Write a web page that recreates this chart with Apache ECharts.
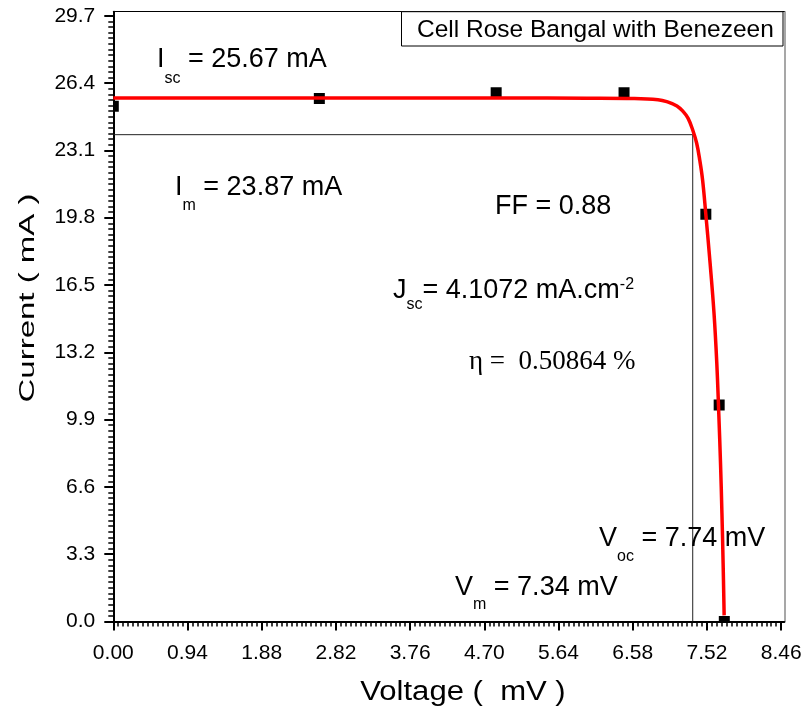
<!DOCTYPE html>
<html>
<head>
<meta charset="utf-8">
<script src="https://cdn.jsdelivr.net/npm/echarts@6/dist/echarts.min.js"></script>
<style>
  html, body { margin: 0; padding: 0; background: #fff; }
  #chart { width: 807px; height: 719px; }
</style>
</head>
<body>
<div id="chart"></div>
<script>
// Measured I–V points (voltage in mV, current in mA)
const measuredVoltage = [0, 2.61, 4.85, 6.47, 7.506, 7.675, 7.74];
const measuredCurrent = [25.27, 25.64, 25.92, 25.92, 19.97, 10.61, 0];

// Fitted I–V curve
const fitVoltage = [0, 1, 2, 3, 4, 5, 6, 6.6, 6.9, 7.01, 7.14, 7.22, 7.28, 7.34, 7.39, 7.43, 7.465, 7.505, 7.56, 7.61, 7.645, 7.67, 7.692, 7.71, 7.725, 7.738];
const fitCurrent = [25.67, 25.67, 25.67, 25.67, 25.67, 25.67, 25.66, 25.64, 25.58, 25.49, 25.28, 25.0, 24.68, 24.1, 23.45, 22.6, 21.65, 20.0, 17.57, 15.1, 12.66, 10.2, 7.76, 5.3, 2.85, 0.3];

// Cell parameters
const isc = 25.67;   // mA
const im = 23.87;    // mA
const vm = 7.34;     // mV
const voc = 7.74;    // mV
const ff = 0.88;
const jsc = 4.1072;  // mA.cm-2
const eta = 0.50864; // %

// Axis tick labels
const xTicks = [0, 0.94, 1.88, 2.82, 3.76, 4.70, 5.64, 6.58, 7.52, 8.46];
const yTicks = [0, 3.3, 6.6, 9.9, 13.2, 16.5, 19.8, 23.1, 26.4, 29.7];

const legendText = 'Cell Rose Bangal with Benezeen';
const xTitle = 'Voltage (  mV )';
const yTitle = 'Current ( mA )';

// minor tick positions between the labelled ticks
function minorTicks(major, parts) {
  const out = [];
  for (let i = 0; i < major.length - 1; i++) {
    const step = (major[i + 1] - major[i]) / parts;
    for (let k = 1; k < parts; k++) out.push(+(major[i] + k * step).toFixed(5));
  }
  return out;
}
const xMinor = minorTicks(xTicks, 15);
const yMinor = minorTicks(yTicks, 12);

const SANS = '"Liberation Sans", Arial, sans-serif';
const SERIF = '"Liberation Serif", "Times New Roman", serif';
const MARK = 11; // square marker edge, px

const chart = echarts.init(document.getElementById('chart'), null, { renderer: 'canvas' });

const hidden = { axisLine: { show: false }, axisTick: { show: false }, axisLabel: { show: false }, splitLine: { show: false } };

function richStyle(subPad) {
  return {
    m: { fontSize: 27, lineHeight: 27, verticalAlign: 'top', fontFamily: SANS, fill: '#000' },
    s: { fontSize: 16, verticalAlign: 'top', padding: [subPad, 0, 0, 0], fontFamily: SANS, fill: '#000' },
    p: { fontSize: 16, lineHeight: 16, verticalAlign: 'top', fontFamily: SANS, fill: '#000' }
  };
}
function label(x, y, text, subPad) {
  return {
    type: 'text', x: x, y: y, z: 100,
    style: { text: text, rich: richStyle(subPad), align: 'left', verticalAlign: 'top', fill: '#000' }
  };
}

const option = {
  animation: false,
  backgroundColor: '#fff',
  grid: { left: 113.3, right: 22.7, top: 11.7, bottom: 97.5, containLabel: false, show: false },
  xAxis: [
    {
      type: 'value', min: 0, max: 8.5, position: 'bottom',
      axisLine: { show: true, onZero: false, lineStyle: { color: '#000', width: 2 } },
      axisTick: { show: true, customValues: xTicks, length: 9, lineStyle: { color: '#000', width: 2 } },
      axisLabel: { customValues: xTicks, formatter: v => v.toFixed(2), fontSize: 21, color: '#000', fontFamily: SANS, margin: 21 },
      splitLine: { show: false }
    },
    {
      type: 'value', min: 0, max: 8.5, position: 'bottom',
      axisLine: { show: false },
      axisTick: { show: true, customValues: xMinor, length: 5, lineStyle: { color: '#000', width: 1.5 } },
      axisLabel: { show: false }, splitLine: { show: false }
    },
    Object.assign({ type: 'value', min: 0, max: 8.5, position: 'top' }, hidden,
      { axisLine: { show: true, onZero: false, lineStyle: { color: '#000', width: 1 } } })
  ],
  yAxis: [
    {
      type: 'value', min: 0, max: 29.9, position: 'left',
      axisLine: { show: true, onZero: false, lineStyle: { color: '#000', width: 2 } },
      axisTick: { show: true, customValues: yTicks, length: 9, lineStyle: { color: '#000', width: 2 } },
      axisLabel: { customValues: yTicks, formatter: v => v.toFixed(1), fontSize: 21, color: '#000', fontFamily: SANS, margin: 18 },
      splitLine: { show: false }
    },
    {
      type: 'value', min: 0, max: 29.9, position: 'left',
      axisLine: { show: false },
      axisTick: { show: true, customValues: yMinor, length: 5, lineStyle: { color: '#000', width: 1.5 } },
      axisLabel: { show: false }, splitLine: { show: false }
    },
    Object.assign({ type: 'value', min: 0, max: 29.9, position: 'right' }, hidden,
      { axisLine: { show: true, onZero: false, lineStyle: { color: '#8a8a8a', width: 1.5 } } })
  ],
  series: [
    {
      // maximum power point guide lines
      type: 'line', xAxisIndex: 0, yAxisIndex: 0, z: 1,
      data: [[0, im], [vm, im], [vm, 0]],
      symbol: 'none', lineStyle: { color: '#222', width: 1 }, silent: true
    },
    {
      // measured points as squares, clipped at the frame
      type: 'custom', xAxisIndex: 0, yAxisIndex: 0, z: 2, clip: true,
      data: measuredVoltage.map((v, i) => [v, measuredCurrent[i]]),
      encode: { x: 0, y: 1 },
      renderItem: (params, api) => {
        const p = api.coord([api.value(0), api.value(1)]);
        return {
          type: 'rect',
          shape: { x: p[0] - MARK / 2, y: p[1] - MARK / 2, width: MARK, height: MARK },
          style: { fill: '#000' }
        };
      }
    },
    {
      type: 'line', xAxisIndex: 0, yAxisIndex: 0, z: 3,
      data: fitVoltage.map((v, i) => [v, fitCurrent[i]]),
      symbol: 'none', smooth: 0.4,
      lineStyle: { color: '#ff0000', width: 3.5 }, clip: true
    }
  ],
  graphic: [
    // legend box
    { type: 'rect', z: 90, shape: { x: 401.5, y: 11.7, width: 381.5, height: 34.3 },
      style: { fill: '#fff', stroke: '#000', lineWidth: 1 } },
    { type: 'text', z: 100, x: 417, y: 30, style: { text: legendText, font: '24.5px ' + SANS, fill: '#000', align: 'left', verticalAlign: 'middle' } },
    // axis titles
    { type: 'text', z: 100, x: 463, y: 693, scaleX: 1.15,
      style: { text: xTitle, font: '27px ' + SANS, fill: '#000', align: 'center', verticalAlign: 'middle' } },
    { type: 'text', z: 100, x: 28, y: 298, rotation: Math.PI / 2, scaleX: 1.5,
      style: { text: yTitle, font: '22px ' + SANS, fill: '#000', align: 'center', verticalAlign: 'middle' } },
    // cell parameters
    label(157, 46, '{m|I}{s|sc}{m| = ' + isc.toFixed(2) + ' mA}', 25),
    label(175, 174, '{m|I}{s|m}{m| = ' + im.toFixed(2) + ' mA}', 24),
    label(495, 193, '{m|FF = ' + ff.toFixed(2) + '}', 20),
    label(393, 277, '{m|J}{s|sc}{m|= ' + jsc.toFixed(4) + ' mA.cm}{p|-2}', 20),
    { type: 'text', z: 100, x: 469, y: 348,
      style: { text: 'η =  ' + eta.toFixed(5) + ' %', font: '27px ' + SERIF, fill: '#000', align: 'left', verticalAlign: 'top' } },
    label(599, 525, '{m|V}{s|oc}{m| = ' + voc.toFixed(2) + ' mV}', 24),
    label(455, 574, '{m|V}{s|m}{m| = ' + vm.toFixed(2) + ' mV}', 23)
  ]
};

chart.setOption(option);
</script>
</body>
</html>
